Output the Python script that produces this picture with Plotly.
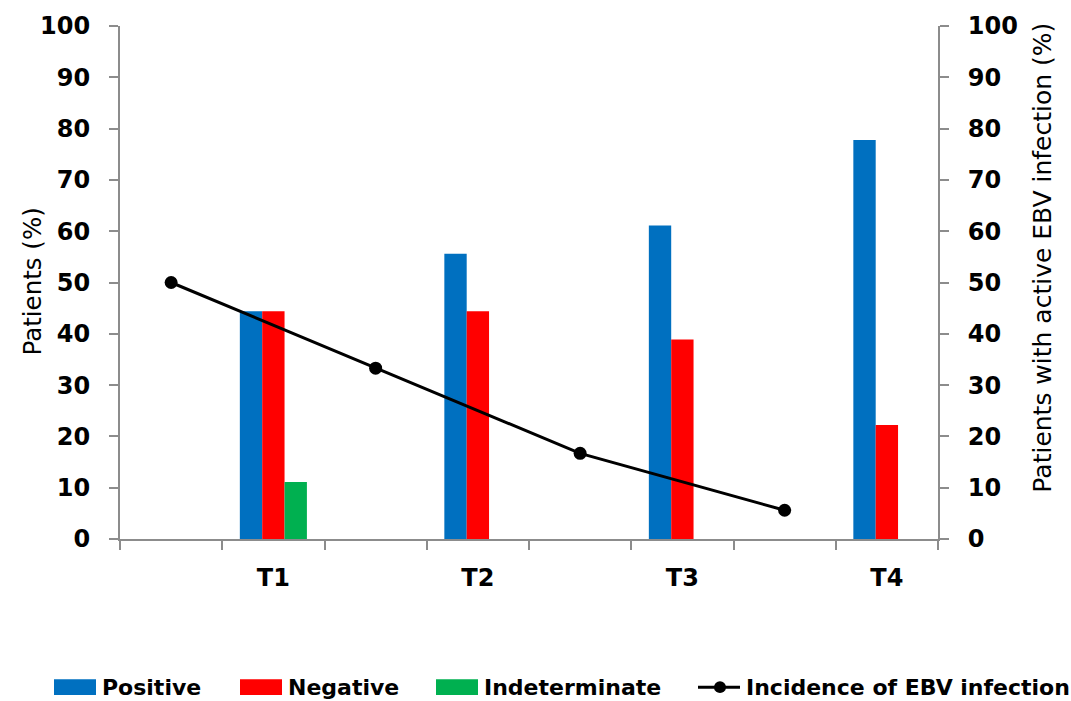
import plotly.graph_objects as go

# Time points and results per time point (% of patients)
categories = ["T1", "T2", "T3", "T4"]
positive = [44.4, 55.6, 61.1, 77.8]
negative = [44.4, 44.4, 38.9, 22.2]
indeterminate = [11.1, 0.0, 0.0, 0.0]
incidence = [50.0, 33.3, 16.7, 5.6]

y_ticks = list(range(0, 101, 10))

BLUE = "#0070C0"
RED = "#FF0000"
GREEN = "#00B050"
AXIS = "#8C8C8C"
FONT = "DejaVu Sans"

# Each time point occupies two slots on the axis: the incidence point sits
# in the first slot, the grouped bars in the second.
n = len(categories)
bar_x = [2 * (i + 1) for i in range(n)]
line_x = [x - 1 for x in bar_x]

fig = go.Figure()
series = [("Positive", positive, BLUE), ("Negative", negative, RED),
          ("Indeterminate", indeterminate, GREEN)]
for name, vals, col in series:
    fig.add_trace(go.Bar(x=bar_x, y=vals, name=name, marker_color=col,
                         marker_line_width=0, showlegend=False))

fig.add_trace(go.Scatter(x=line_x, y=incidence, name="Incidence of EBV infection",
                         yaxis="y2", mode="lines+markers",
                         line=dict(color="black", width=3),
                         marker=dict(color="black", size=13),
                         showlegend=False))

tick_font = dict(family=FONT, size=24, color="black", weight="bold")

yax = dict(range=[0, 100], tickvals=y_ticks, showgrid=False, zeroline=False,
           showline=True, linecolor=AXIS, linewidth=2, ticks="outside",
           ticklen=9, tickwidth=1.5, tickcolor=AXIS, tickfont=tick_font,
           ticklabelstandoff=14)

fig.update_layout(
    width=1071, height=701, autosize=False,
    margin=dict(l=120, r=133, t=23, b=162),
    plot_bgcolor="white", paper_bgcolor="white",
    # bar slots are two units apart, so the group fills ~0.65 of one slot
    barmode="group", bargap=0.672, bargroupgap=0,
    showlegend=False,
    xaxis=dict(range=[0.5, 2 * n + 0.5], tickvals=bar_x, ticktext=categories,
               ticks="", tickfont=tick_font, ticklabelstandoff=16,
               showgrid=False, zeroline=False, showline=True, linecolor=AXIS,
               linewidth=2,
               minor=dict(tickvals=[k + 0.5 for k in range(2 * n + 1)],
                          ticks="outside", ticklen=9, tickwidth=1.5,
                          tickcolor=AXIS, showgrid=False)),
    yaxis=dict(**yax, side="left"),
    yaxis2=dict(**yax, side="right", overlaying="y"),
)

x0, x1 = 120, 1071 - 133
y0, y1 = 539, 23


def px(x):
    return (x - x0) / (x1 - x0)


def py(y):
    return (y0 - y) / (y0 - y1)


# Axis titles
fig.add_annotation(xref="paper", yref="paper", x=px(33), y=py(280),
                   text="Patients (%)", textangle=-90, showarrow=False,
                   xanchor="center", yanchor="middle",
                   font=dict(family=FONT, size=24.5, color="black"))
fig.add_annotation(xref="paper", yref="paper", x=px(1043), y=py(256),
                   text="Patients with active EBV infection (%)", textangle=-90,
                   showarrow=False, xanchor="center", yanchor="middle",
                   font=dict(family=FONT, size=25, color="black"))

# Legend row drawn beneath the axis
legend_font = dict(family=FONT, size=22, color="black", weight="bold")
legend_y = 688
swatches = [(54, 96, BLUE, "Positive"), (240, 282, RED, "Negative"),
            (436, 478, GREEN, "Indeterminate")]
for left, right, col, label in swatches:
    fig.add_shape(type="rect", xref="paper", yref="paper",
                  x0=px(left), x1=px(right), y0=py(legend_y + 8), y1=py(legend_y - 8),
                  fillcolor=col, line_width=0)
    fig.add_annotation(xref="paper", yref="paper", x=px(right + 4), y=py(legend_y),
                       text=label, showarrow=False, xanchor="left", yanchor="middle",
                       font=legend_font)

fig.add_shape(type="line", xref="paper", yref="paper",
              x0=px(698), x1=px(740), y0=py(legend_y), y1=py(legend_y),
              line=dict(color="black", width=3))
fig.add_shape(type="circle", xref="paper", yref="paper",
              x0=px(714), x1=px(726), y0=py(legend_y + 6), y1=py(legend_y - 6),
              fillcolor="black", line_width=0)
fig.add_annotation(xref="paper", yref="paper", x=px(744), y=py(legend_y),
                   text="Incidence of EBV infection", showarrow=False,
                   xanchor="left", yanchor="middle", font=legend_font)

fig.write_html("out.html")
